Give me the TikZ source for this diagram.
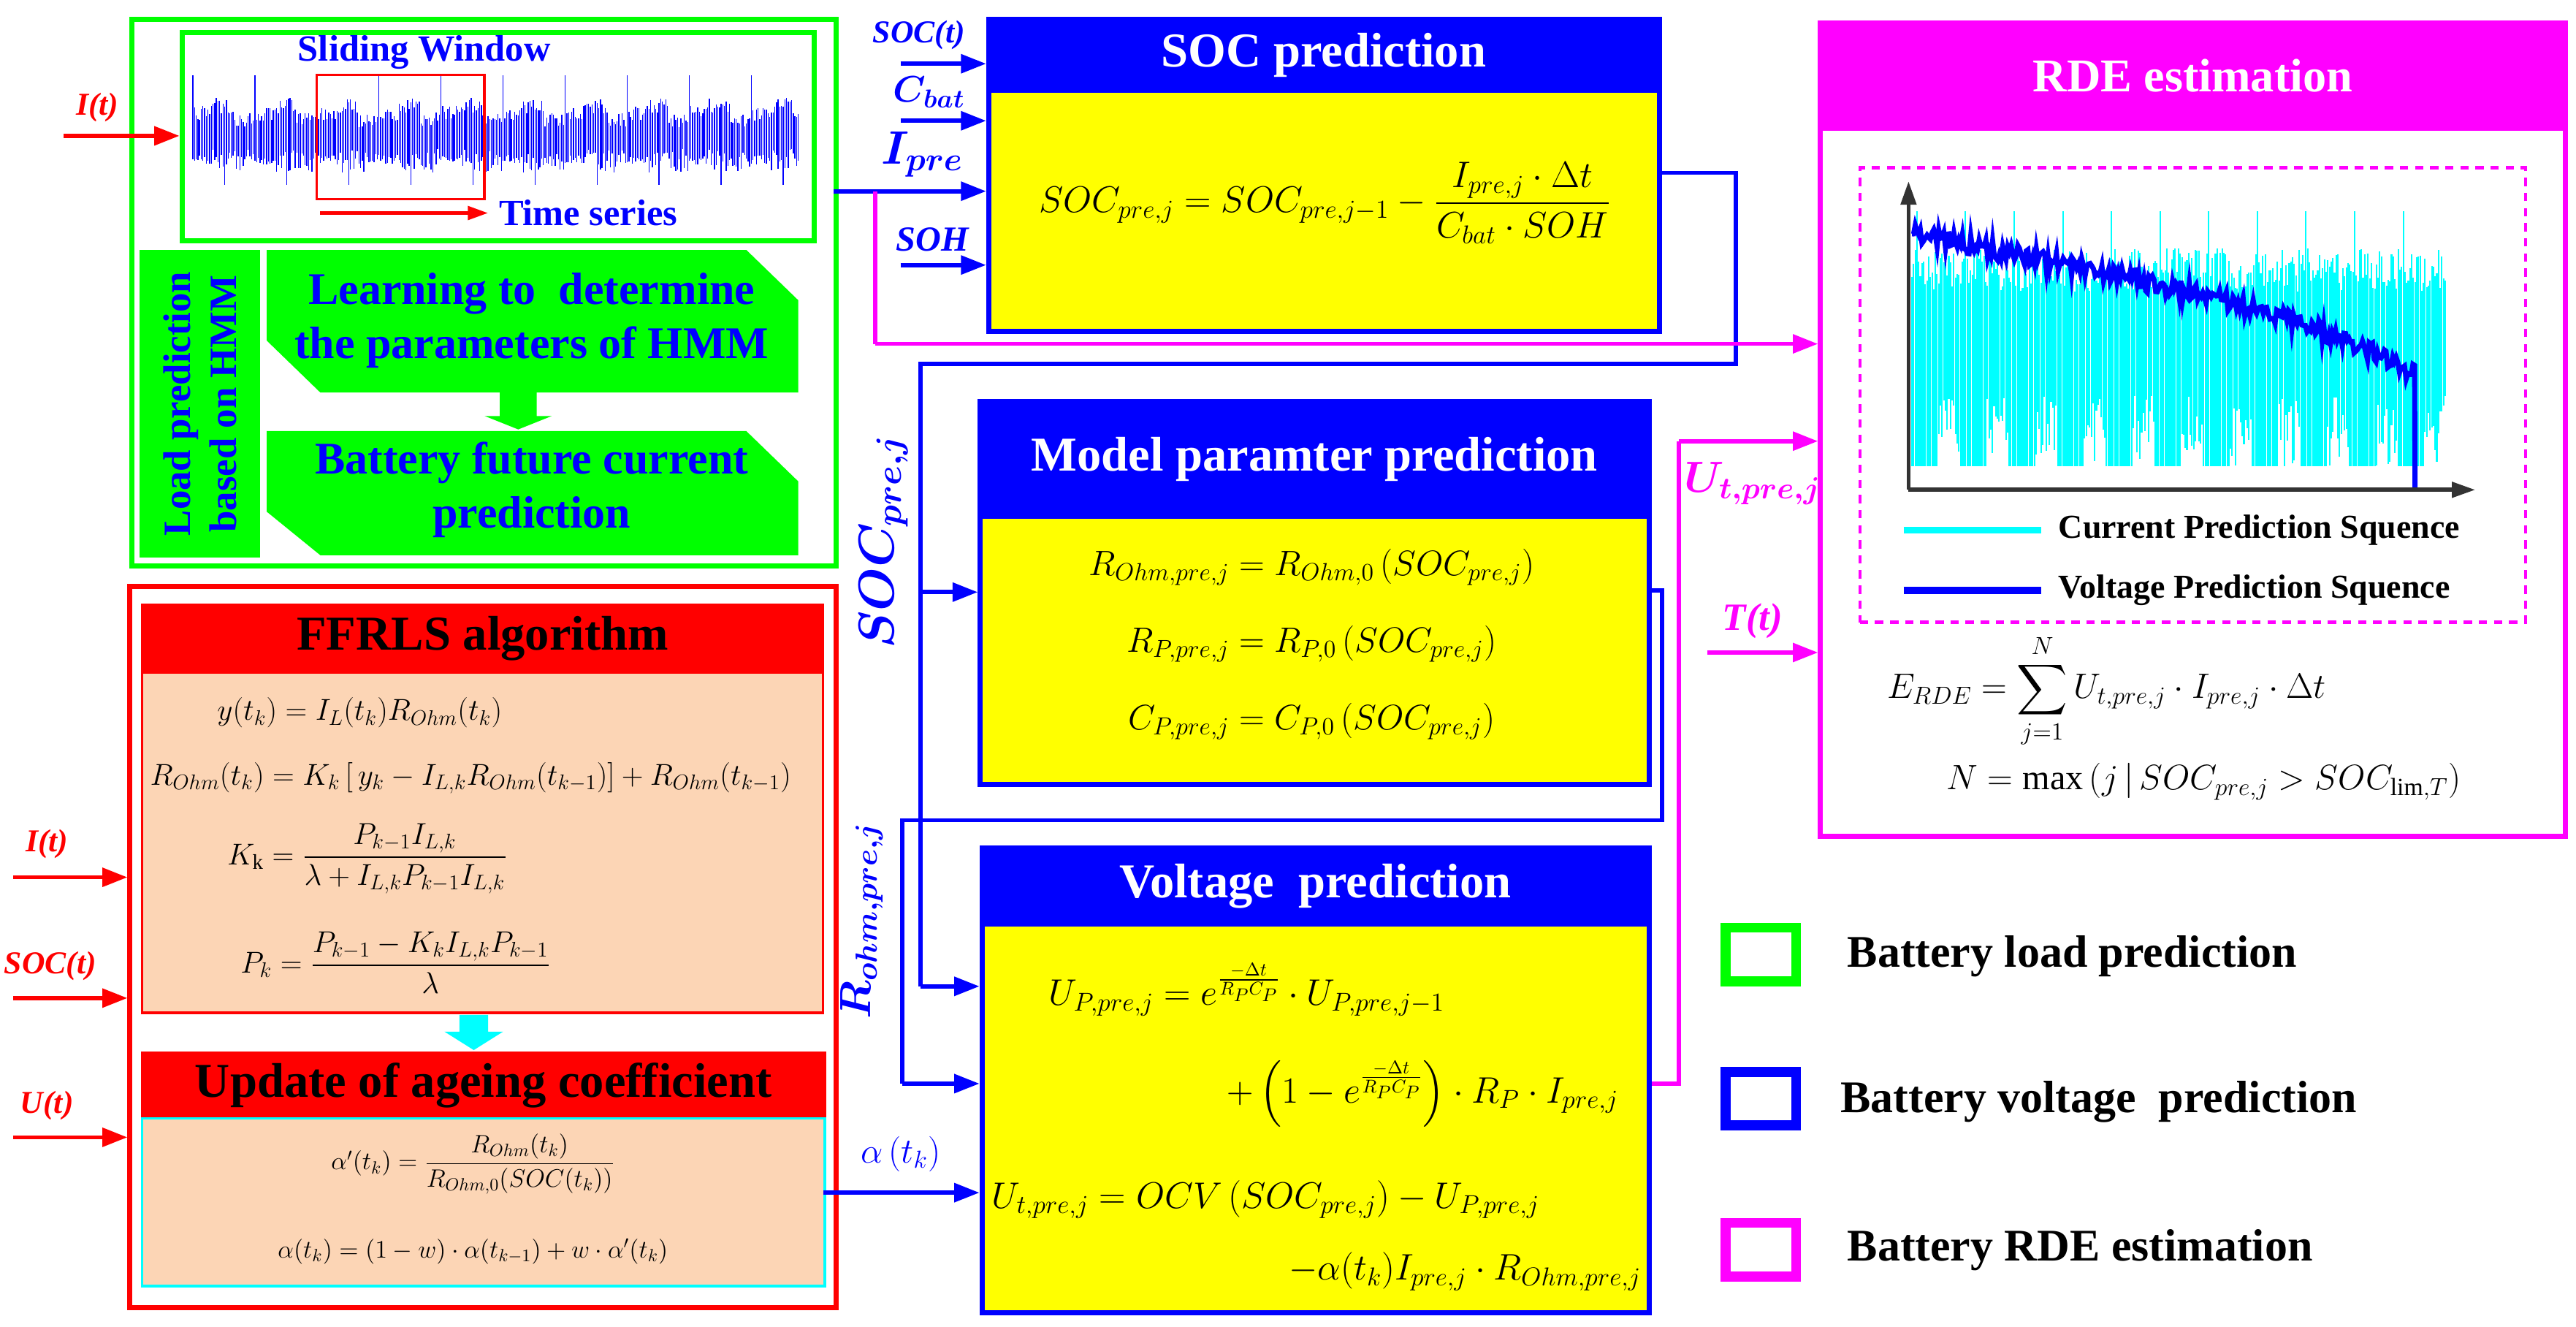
\RequirePackage{fix-cm}
\documentclass[tikz,border=0pt]{standalone}
\usepackage{amsmath,amssymb}
\usepackage{fontspec}
\setmainfont{Liberation Serif}[BoldFont={Liberation Serif Bold},ItalicFont={Liberation Serif Italic},BoldItalicFont={Liberation Serif Bold Italic}]
\usetikzlibrary{arrows.meta}
\definecolor{gG}{HTML}{00FF00}
\definecolor{bB}{HTML}{0000FF}
\definecolor{yY}{HTML}{FFFF00}
\definecolor{rR}{HTML}{FF0000}
\definecolor{sS}{HTML}{FCD5B5}
\definecolor{mM}{HTML}{FF00FF}
\definecolor{cC}{HTML}{00FFFF}
\newcommand\rbox[6]{\node[#6,anchor=north west,inner sep=0pt,minimum width={#4-#2},minimum height={#5-#3}] (#1) at (#2,#3) {};}
\newcommand\fs[1]{\fontsize{#1}{\dimexpr #1pt*6/5\relax}\selectfont}
\tikzset{
 x=1pt,y=-1pt,
 tip/.style={-{Triangle[length=15pt,width=11pt]}},
 con/.style={draw=bB,line width=2.5pt},
 mcon/.style={draw=mM,line width=2.5pt},
 rcon/.style={draw=rR,line width=2.5pt},
 hdrB/.style={draw=bB,fill=bB,line width=2.5pt},
 bodyY/.style={draw=bB,fill=yY,line width=3pt},
 hdrR/.style={draw=rR,fill=rR,line width=1.5pt},
 bodyS/.style={draw=rR,fill=sS,line width=1.5pt},
 title/.style={text=white,font=\fs{29}\bfseries},
 rtitle/.style={text=black,font=\fs{29}\bfseries},
 gtxt/.style={text=bB,font=\fs{27}\bfseries,align=center},
 lab/.style={text=bB,font=\fs{20}\bfseries\itshape},
 eq/.style={font=\fs{21}},
 leg/.style={font=\fs{27}\bfseries,anchor=west},
 legsq/.style={line width=6pt,minimum width=42pt,minimum height=32pt,inner sep=0pt},
 sig/.style={draw=bB,line width=0.6pt},
 csig/.style={draw=cC,line width=0.9pt},
}
\begin{document}
\begin{tikzpicture}
\useasboundingbox (0,0) rectangle (1536,791);
% ---------- Load prediction (green) ----------
\rbox{gouter}{77}{10}{497}{336}{draw=gG,line width=3pt}
\rbox{slide}{107}{18}{484}{142}{draw=gG,line width=3pt}
\node[text=bB,font=\fs{22}\bfseries] (swt) at (253,31) {Sliding Window};
\pgfmathsetseed{7}
\foreach \i in {0,...,361}{
 \pgfmathsetmacro\p{int(mod(\i,37))}
 \pgfmathsetmacro\u{ifthenelse(\p==0,37,ifthenelse(\p<12,10+9*rnd,ifthenelse(\p<25,14+10*rnd,6+9*rnd)))}
 \pgfmathsetmacro\d{ifthenelse(\p==19,28,ifthenelse(\p<12,10+6*rnd,7+14*rnd))}
 \draw[sig] ({115+\i},{82-\u}) -- ({115+\i},{82+\d});
}
\rbox{win}{188}{44}{288}{118}{draw=rR,line width=1.5pt}
\coordinate (ta) at (191,127);
\coordinate (tb) at (291,127);
\draw[rcon,line width=2pt,-{Triangle[length=12pt,width=8pt]}] (ta) -- (tb);
\node[text=bB,font=\fs{22}\bfseries,anchor=west] (ts) at (294,127) {Time series};
\coordinate (it0) at (38,81);
\draw[rcon,tip] (it0) -- (slide.west |- it0);
\node[text=rR,font=\fs{19}\bfseries\itshape] (itl) at (58,64) {I(t)};
\rbox{lpv}{83}{149}{155}{332}{fill=gG}
\node[gtxt,rotate=90,font=\fs{23}\bfseries] (lpt) at (lpv.center) {Load prediction\\based on HMM};
\fill[gG] (159,149) -- (445,149) -- (476,179) -- (476,234) -- (191,234) -- (159,203) -- cycle;
\node[gtxt] (learn) at (317,191) {Learning to\ \ determine\\the parameters of HMM};
\fill[gG] (159,257) -- (445,257) -- (476,287) -- (476,331) -- (191,331) -- (159,305) -- cycle;
\node[gtxt] (batt) at (317,292) {Battery future current\\prediction};
\fill[gG] (298,234) -- (320,234) -- (320,248) -- (329,248) -- (309,256) -- (289,248) -- (298,248) -- cycle;
% ---------- FFRLS (red) ----------
\rbox{router}{76}{348}{497}{778}{draw=rR,line width=3pt}
\rbox{ffh}{84}{360}{490}{400}{hdrR}
\node[rtitle] (fft) at (ffh.center) {FFRLS algorithm};
\rbox{ffb}{84}{400}{490}{603}{bodyS}
\node[font=\fs{18},anchor=west] (e1) at (126,425) {$y(t_k)=I_L(t_k)R_{Ohm}(t_k)$};
\node[font=\fs{18},anchor=west] (e2) at (86,464) {$R_{Ohm}(t_k)=K_k\left[\,y_k-I_{L,k}R_{Ohm}(t_{k-1})\right]+R_{Ohm}(t_{k-1})$};
\node[font=\fs{18},anchor=west] (e3) at (132,512) {$K_{\mathrm{k}}=\dfrac{P_{k-1}I_{L,k}}{\lambda+I_{L,k}P_{k-1}I_{L,k}}$};
\node[font=\fs{18},anchor=west] (e4) at (140,574) {$P_k=\dfrac{P_{k-1}-K_kI_{L,k}P_{k-1}}{\lambda}$};
\fill[cC] (274,605) -- (291,605) -- (291,615) -- (300,615) -- (282.5,626) -- (265,615) -- (274,615) -- cycle;
\rbox{uph}{84}{627}{491}{666}{hdrR}
\node[rtitle] (upt) at (uph.center) {Update of ageing coefficient};
\rbox{upb}{84}{666}{491}{766}{draw=cC,fill=sS,line width=1.5pt}
\node[font=\fs{15}] (e5) at (282,694) {$\alpha'(t_k)=\dfrac{R_{Ohm}(t_k)}{R_{Ohm,0}(SOC(t_k))}$};
\node[font=\fs{15}] (e6) at (282,746) {$\alpha(t_k)=(1-w)\cdot\alpha(t_{k-1})+w\cdot\alpha'(t_k)$};
\coordinate (i1) at (8,523);
\coordinate (i2) at (8,595);
\coordinate (i3) at (8,678);
\draw[rcon,tip] (i1) -- (router.west |- i1);
\draw[rcon,tip] (i2) -- (router.west |- i2);
\draw[rcon,tip] (i3) -- (router.west |- i3);
\node[text=rR,font=\fs{19}\bfseries\itshape] (l1) at (28,503) {I(t)};
\node[text=rR,font=\fs{19}\bfseries\itshape] (l2) at (30,576) {SOC(t)};
\node[text=rR,font=\fs{19}\bfseries\itshape] (l3) at (28,659) {U(t)};
% ---------- SOC prediction ----------
\rbox{socb}{588}{10}{988}{196}{bodyY}
\rbox{soch}{588}{10}{988}{53}{hdrB}
\node[title] (soct) at (soch.center) {SOC prediction};
\node[eq,font=\fs{22}] (soce) at (790,121) {$SOC_{pre,j}=SOC_{pre,j-1}-\dfrac{I_{pre,j}\cdot\Delta t}{C_{bat}\cdot SOH}$};
\coordinate (s1) at (537,38);
\coordinate (s2) at (537,72);
\coordinate (s4) at (537,158);
\draw[con,tip] (s1) -- (socb.west |- s1);
\draw[con,tip] (s2) -- (socb.west |- s2);
\draw[con,tip] (s4) -- (socb.west |- s4);
\coordinate (s3) at (497,114);
\draw[con,tip] (s3) -- (socb.west |- s3);
\node[lab,font=\fs{19}\bfseries\itshape] (s1l) at (548,21) {SOC(t)};
\node[text=bB,font=\fs{22}] (s2l) at (554,55) {$\boldsymbol{C_{bat}}$};
\node[text=bB,font=\fs{28}] (s3l) at (550,92) {$\boldsymbol{I_{pre}}$};
\node[lab,font=\fs{21}\bfseries\itshape] (s4l) at (556,143) {SOH};
\coordinate (m1) at (522,114);
\coordinate (m2) at (522,205);
% ---------- Model parameter ----------
\rbox{modb}{583}{238}{982}{466}{bodyY}
\rbox{modh}{583}{238}{982}{307}{hdrB}
\node[title] (modt) at (modh.center) {Model paramter prediction};
\node[eq] (me1) at (782,338) {$R_{Ohm,pre,j}=R_{Ohm,0}\left(SOC_{pre,j}\right)$};
\node[eq] (me2) at (782,384) {$R_{P,pre,j}=R_{P,0}\left(SOC_{pre,j}\right)$};
\node[eq] (me3) at (782,430) {$C_{P,pre,j}=C_{P,0}\left(SOC_{pre,j}\right)$};
% ---------- Voltage ----------
\rbox{volb}{584}{504}{982}{781}{bodyY}
\rbox{volh}{584}{504}{982}{550}{hdrB}
\node[title] (volt) at (volh.center) {Voltage\ \ prediction};
\node[eq,font=\fs{22},anchor=west] (ve1) at (622,590) {$U_{P,pre,j}=e^{\frac{-\Delta t}{R_PC_P}}\cdot U_{P,pre,j-1}$};
\node[eq,font=\fs{22},anchor=west] (ve2) at (728,652) {$+\left(1-e^{\frac{-\Delta t}{R_PC_P}}\right)\cdot R_P\cdot I_{pre,j}$};
\node[eq,font=\fs{22},anchor=west] (ve3) at (588,715) {$U_{t,pre,j}=OCV\left(SOC_{pre,j}\right)-U_{P,pre,j}$};
\node[eq,font=\fs{22},anchor=west] (ve4) at (765,758) {$-\alpha(t_k)I_{pre,j}\cdot R_{Ohm,pre,j}$};
% ---------- RDE ----------
\rbox{rdeb}{1084}{12}{1528}{497}{draw=mM,line width=3pt}
\rbox{rdeh}{1084}{12}{1528}{75}{draw=mM,fill=mM,line width=3pt}
\node[title,font=\fs{28}\bfseries] (rdet) at (rdeh.center) {RDE estimation};
\rbox{dash}{1108}{99}{1505}{370}{draw=mM,line width=2pt,dash pattern=on 5pt off 4pt}
\pgfmathsetseed{11}
\foreach \i in {0,...,318}{
 \pgfmathsetmacro\p{int(mod(\i,29))}
 \pgfmathsetmacro\u{ifthenelse(\p==3,126,148+26*rnd)}
 \pgfmathsetmacro\d{ifthenelse(\p<16,278,236+42*rnd)}
 \draw[csig] ({1140+\i},{\u}) -- ({1140+\i},{\d});
}
\draw[draw=bB,line width=3pt] plot[samples=300,domain=0:1] ({1140+300*\x},{139+62*\x+22*(\x)^5+12*(rnd-0.5)}) -- (1440,292);
\coordinate (ax0) at (1138,292);
\coordinate (axy) at (1138,108);
\coordinate (axx) at (1476,292);
\draw[line width=2.5pt,draw=black!80,-{Triangle[length=14pt,width=9pt]}] (ax0) -- (axy);
\draw[line width=2.5pt,draw=black!80,-{Triangle[length=14pt,width=9pt]}] (ax0) -- (axx);
\coordinate (lc0) at (1135,316); \coordinate (lc1) at (1217,316);
\coordinate (lv0) at (1135,352); \coordinate (lv1) at (1217,352);
\draw[draw=cC,line width=4pt] (lc0) -- (lc1);
\draw[draw=bB,line width=4pt] (lv0) -- (lv1);
\node[font=\fs{20}\bfseries,anchor=west] (lct) at (1224,316) {Current Prediction Squence};
\node[font=\fs{20}\bfseries,anchor=west] (lvt) at (1224,352) {Voltage Prediction Squence};
\node[eq] (re1) at (1256,412) {$\displaystyle E_{RDE}=\sum_{j=1}^{N}U_{t,pre,j}\cdot I_{pre,j}\cdot\Delta t$};
\node[eq] (re2) at (1314,466) {$N=\max\left(j\,\middle|\,SOC_{pre,j}>SOC_{\mathrm{lim},T}\right)$};
% ---------- connectors ----------
\coordinate (a1) at (1035,103);
\coordinate (a2) at (1035,217);
\coordinate (a3) at (549,217);
\coordinate (a4) at (549,353);
\coordinate (a5) at (549,588);
\draw[con] (socb.east |- a1) -- (a1) -- (a2) -- (a3) -- (a5);
\draw[con,tip] (a4) -- (modb.west |- a4);
\draw[con,tip] (a5) -- (volb.west |- a5);
\node[text=bB,font=\fs{30},rotate=90] (socl) at (527,323) {$\boldsymbol{SOC_{pre,j}}$};
\coordinate (b1) at (991,352);
\coordinate (b2) at (991,489);
\coordinate (b3) at (538,489);
\coordinate (b4) at (538,646);
\draw[con] (modb.east |- b1) -- (b1) -- (b2) -- (b3) -- (b4);
\draw[con,tip] (b4) -- (volb.west |- b4);
\node[text=bB,font=\fs{26},rotate=90] (rohl) at (514,549) {$\boldsymbol{R_{ohm,pre,j}}$};
\coordinate (c1) at (491,711);
\draw[con,tip] (c1) -- (volb.west |- c1);
\node[text=bB,font=\fs{21}] (alpl) at (537,688) {$\alpha\left(t_k\right)$};
\draw[mcon] (m1) -- (m2);
\draw[mcon,tip] (m2) -- (rdeb.west |- m2);
\coordinate (d1) at (1001,646);
\coordinate (d2) at (1001,263);
\draw[mcon] (volb.east |- d1) -- (d1) -- (d2);
\draw[mcon,tip] (d2) -- (rdeb.west |- d2);
\node[text=mM,font=\fs{26}] (utl) at (1045,288) {$\boldsymbol{U_{t,pre,j}}$};
\coordinate (t1) at (1018,389);
\draw[mcon,tip] (t1) -- (rdeb.west |- t1);
\node[text=mM,font=\fs{23}\bfseries\itshape] (ttl) at (1045,370) {T(t)};
% ---------- legend ----------
\node[legsq,draw=gG] (lg1) at (1050,569) {};
\node[legsq,draw=bB] (lg2) at (1050,655) {};
\node[legsq,draw=mM] (lg3) at (1050,745) {};
\node[leg] (lt1) at (1098,570) {Battery load prediction};
\node[leg] (lt2) at (1094,657) {Battery voltage\ \ prediction};
\node[leg] (lt3) at (1098,745) {Battery RDE estimation};
\end{tikzpicture}
\end{document}
